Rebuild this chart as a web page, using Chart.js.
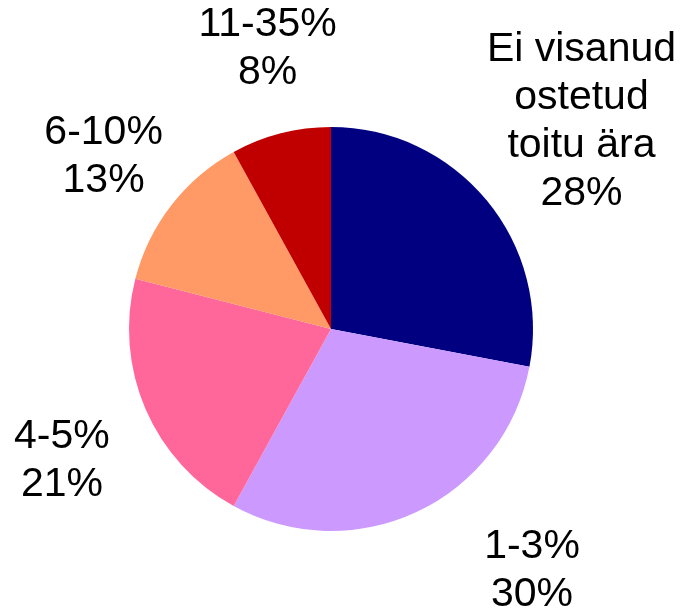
<!DOCTYPE html>
<html>
<head>
<meta charset="utf-8">
<script src="https://cdn.jsdelivr.net/npm/chart.js@4"></script>
<style>
	html, body { margin: 0; padding: 0; background: #ffffff; }
	#wrap { width: 684px; height: 610px; }
</style>
</head>
<body>
<div id="wrap"><canvas id="pieChart" width="684" height="610"></canvas></div>
<script>
// Andmed
const categories = [["Ei visanud", "ostetud", "toitu ära"], ["1-3%"], ["4-5%"], ["6-10%"], ["11-35%"]];
const shares = [28, 30, 21, 13, 8];
const sliceColors = ["#000080", "#CC99FF", "#FF6699", "#FF9966", "#C00000"];

// silte nihutatakse veidi, nagu Excelis
const labelNudges = [[17, -14], [72, -32], [9, 11], [12, 13], [12, 13]];

const outsideLabels = {
	id: "outsideLabels",
	afterDatasetsDraw(chart) {
		const ctx = chart.ctx;
		const meta = chart.getDatasetMeta(0);
		ctx.save();
		ctx.font = "41px 'Liberation Sans', Arial, sans-serif";
		ctx.fillStyle = "#000000";
		ctx.textAlign = "center";
		ctx.textBaseline = "middle";
		const lineH = 48;
		meta.data.forEach((arc, i) => {
			const p = arc.getProps(["x", "y", "startAngle", "endAngle", "outerRadius"], true);
			const mid = (p.startAngle + p.endAngle) / 2;
			const r = p.outerRadius * 1.5;
			const cx = p.x + Math.cos(mid) * r + labelNudges[i][0];
			const cy = p.y + Math.sin(mid) * r + labelNudges[i][1];
			const lines = categories[i].concat([shares[i] + "%"]);
			const top = cy - (lines.length - 1) * lineH / 2;
			lines.forEach((t, k) => ctx.fillText(t, cx, top + k * lineH));
		});
		ctx.restore();
	}
};

new Chart(document.getElementById("pieChart").getContext("2d"), {
	type: "pie",
	data: {
		labels: categories.map(c => c.join(" ")),
		datasets: [{
			data: shares,
			backgroundColor: sliceColors,
			borderWidth: 0
		}]
	},
	options: {
		responsive: false,
		animation: false,
		layout: { padding: { top: 127, bottom: 79, left: 40, right: 62 } },
		plugins: {
			legend: { display: false },
			tooltip: { enabled: false }
		}
	},
	plugins: [outsideLabels]
});
</script>
</body>
</html>
